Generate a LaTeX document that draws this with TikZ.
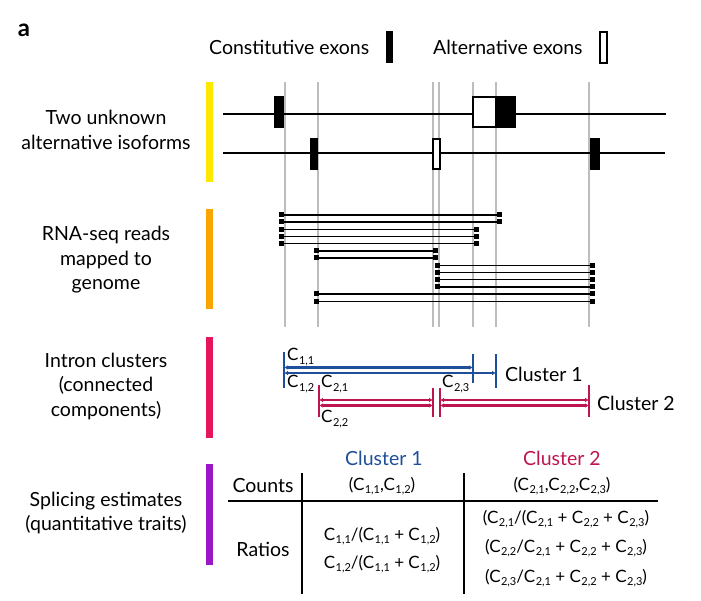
\documentclass[tikz,border=0pt]{standalone}
\usepackage{fontspec}
\setmainfont{Lato}
\usetikzlibrary{arrows.meta}
\definecolor{cblue}{HTML}{1F4E9A}
\definecolor{cred}{HTML}{BE1450}
\definecolor{byellow}{HTML}{FFE800}
\definecolor{borange}{HTML}{FBA500}
\definecolor{bred}{HTML}{E3175A}
\definecolor{bpurple}{HTML}{9B16C6}
\definecolor{glin}{HTML}{BDBDBD}
\newcommand\Cs[1]{C\kern0.03em\raisebox{-0.4ex}{\fontsize{11}{11}\selectfont #1}}
\begin{document}
\begin{tikzpicture}[x=1pt,y=-1pt,
  txt/.style={font=\fontsize{19.5}{24.5}\selectfont, inner sep=0pt, align=center},
  sml/.style={font=\fontsize{17}{20}\selectfont, inner sep=0pt},
  gline/.style={glin, line width=1.2pt},
  iso/.style={black, line width=2pt},
  aexon/.style={fill=white, draw=black, line width=1.5pt},
  readl/.style={black, line width=1.5pt},
  rend/.style={fill=black, minimum size=5pt, inner sep=0pt, outer sep=0pt, draw=none},
  tip/.style={{Latex[length=4pt,width=4.5pt]}-{Latex[length=4pt,width=4.5pt]}},
  cl1/.style={cblue, line width=2.4pt, tip},
  cl2/.style={cred, line width=2.4pt, tip},
  tick1/.style={cblue, line width=1.2pt},
  tick2/.style={cred, line width=1.2pt}
]
\useasboundingbox (0,0) rectangle (701,601);

% panel letter
\node[font=\fontsize{24}{24}\selectfont\bfseries, inner sep=0pt] (pa) at (24,30) {a};

% legend
\node[txt, anchor=west] (legc) at (209,47) {Constitutive exons};
\fill[black] (386,31) rectangle (393,63);
\node[txt, anchor=west] (lega) at (433,47) {Alternative exons};
\draw[aexon] (600,32) rectangle (607,63);

% left colour bars
\fill[byellow] (206,82) rectangle (213,182);
\fill[borange] (206,209) rectangle (213,309);
\fill[bred] (206,337) rectangle (213,438);
\fill[bpurple] (206,464) rectangle (213,565);

% left labels
\node[txt] (l1) at (106,130) {Two unknown\\alternative isoforms};
\node[txt] (l2) at (106,260) {RNA-seq reads\\mapped to\\genome};
\node[txt] (l3) at (106,386) {Intron clusters\\(connected\\components)};
\node[txt] (l4) at (106,513) {Splicing estimates\\(quantitative traits)};

% gray splice-site guide lines
\foreach \x in {285,318,433,439,473,496,589}
  \draw[gline] (\x,82) -- (\x,327);

% isoforms
\draw[iso] (223,114) -- (666,114);
\draw[iso] (223,153) -- (665,153);
\fill[black] (274,96) rectangle (284,128);
\draw[aexon] (473,97) rectangle (496,127);
\fill[black] (496,96) rectangle (516,128);
\fill[black] (310,138) rectangle (318,170);
\draw[aexon] (433,139) rectangle (440,169);
\fill[black] (590,138) rectangle (600,170);

% reads
\foreach \y/\a/\b [count=\i] in {215/281/499, 222/281/499, 229.3/281/476, 236.3/281/476, 243.7/281/476,
   251/316/435, 258/316/435,
   265.3/437/592, 272.3/437/592, 279.7/437/592, 287/437/592,
   294/316/592, 301.3/316/592} {
  \node[rend] (ra\i) at (\a,\y) {};
  \node[rend] (rb\i) at (\b,\y) {};
  \draw[readl] (ra\i) -- (rb\i);
}

% intron clusters
\coordinate (b1) at (284,367.5); \coordinate (b2) at (473,367.5);
\coordinate (b3) at (284,373); \coordinate (b4) at (496,373);
\draw[tick1] (284,352) -- (284,388);
\draw[tick1] (473,354) -- (473,383);
\draw[tick1] (496,354) -- (496,388);
\draw[cl1] (b1) -- (b2);
\draw[cl1] (b3) -- (b4);

\coordinate (r1) at (319,400); \coordinate (r2) at (433,400);
\coordinate (r3) at (319,405.5); \coordinate (r4) at (433,405.5);
\coordinate (r5) at (440,400); \coordinate (r6) at (589,400);
\coordinate (r7) at (440,405.5); \coordinate (r8) at (589,405.5);
\draw[tick2] (319,385) -- (319,417);
\draw[tick2] (433,388) -- (433,417);
\draw[tick2] (440,388) -- (440,417);
\draw[tick2] (589,385) -- (589,417);
\draw[cl2] (r1) -- (r2);
\draw[cl2] (r3) -- (r4);
\draw[cl2] (r5) -- (r6);
\draw[cl2] (r7) -- (r8);

\node[sml, anchor=west] (c11) at (287,357) {\Cs{1,1}};
\node[sml, anchor=west] (c12) at (287,384) {\Cs{1,2}};
\node[sml, anchor=west] (c21) at (321,384) {\Cs{2,1}};
\node[sml, anchor=west] (c22) at (321,419) {\Cs{2,2}};
\node[sml, anchor=west] (c23) at (442,384) {\Cs{2,3}};
\node[txt, anchor=west] (k1) at (505,374) {Cluster 1};
\node[txt, anchor=west] (k2) at (597,403) {Cluster 2};

% table
\node[txt, text=cblue] (h1) at (384,458) {Cluster 1};
\node[txt, text=cred] (h2) at (562,458) {Cluster 2};
\node[txt] (cnt) at (263,486) {Counts};
\node[txt] (rat) at (263,549) {Ratios};
\draw[black, line width=1.1pt] (302,473) -- (302,594);
\draw[black, line width=1.1pt] (464,473) -- (464,594);
\draw[black, line width=1.1pt] (228,501) -- (658,501);
\node[sml] (v1) at (382,486) {(\Cs{1,1},\Cs{1,2})};
\node[sml] (v2) at (562,486) {(\Cs{2,1},\Cs{2,2},\Cs{2,3})};
\node[sml] (q1) at (382,536) {\Cs{1,1}/(\Cs{1,1} + \Cs{1,2})};
\node[sml] (q2) at (382,564) {\Cs{1,2}/(\Cs{1,1} + \Cs{1,2})};
\node[sml] (q3) at (566,519) {(\Cs{2,1}/(\Cs{2,1} + \Cs{2,2} + \Cs{2,3})};
\node[sml] (q4) at (566,548) {(\Cs{2,2}/\Cs{2,1} + \Cs{2,2} + \Cs{2,3})};
\node[sml] (q5) at (566,578) {(\Cs{2,3}/\Cs{2,1} + \Cs{2,2} + \Cs{2,3})};
\end{tikzpicture}
\end{document}
